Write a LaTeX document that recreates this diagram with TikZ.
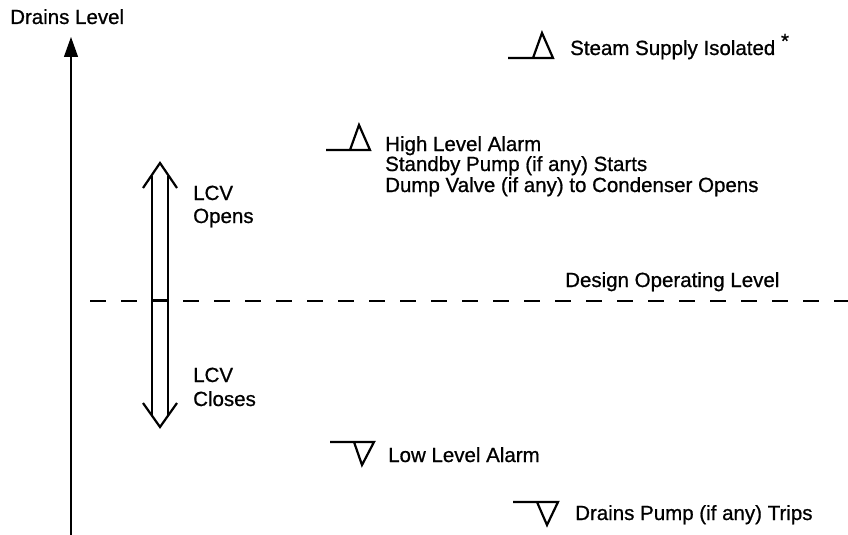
\documentclass[tikz,border=0pt]{standalone}
\usepackage{fontspec}
\setmainfont{Liberation Sans}
\newfontfamily\heavysans{Liberation Sans}[UprightFeatures={FakeBold=0.8}]
\usetikzlibrary{arrows.meta}
\begin{document}
\begin{tikzpicture}[x=1pt,y=-1pt,
  lbl/.style={anchor=base west,inner sep=0pt,font=\heavysans\fontsize{20.5}{22}\selectfont},
  sym/.style={line width=2.2pt,line join=miter},
  shaft/.style={line width=2.2pt},
  axisline/.style={line width=1.3pt,-{Triangle[length=20pt,width=14pt]}},
  levelline/.style={line width=1.8pt,dash pattern=on 16pt off 15pt}]
\useasboundingbox (0,0) rectangle (848,535);
% axis
\coordinate (axB) at (71,535);
\coordinate (axT) at (71,37);
\draw[axisline] (axB) -- (axT);
\node[lbl] (title) at (10,24) {Drains Level};
% design operating level
\coordinate (dL) at (90,301);
\coordinate (dR) at (848,301);
\draw[levelline] (dL) -- (dR);
\node[lbl] (design) at (565,287) {Design Operating Level};
% double arrow LCV
\coordinate (tT) at (160,163);
\coordinate (tL) at (143,188);
\coordinate (tR) at (177,188);
\coordinate (bT) at (160,427);
\coordinate (bL) at (143,403);
\coordinate (bR) at (177,403);
\coordinate (s1a) at (152,175.5);
\coordinate (s1b) at (152,415.5);
\coordinate (s2a) at (168,175.5);
\coordinate (s2b) at (168,415.5);
\coordinate (m1) at (152,300.5);
\coordinate (m2) at (168,300.5);
\draw[shaft,line join=miter] (tL) -- (tT) -- (tR);
\draw[shaft,line join=miter] (bL) -- (bT) -- (bR);
\draw[shaft] (s1a) -- (s1b);
\draw[shaft] (s2a) -- (s2b);
\draw[line width=3.5pt] (m1) -- (m2);
\node[lbl] (lcv1) at (193,200) {LCV};
\node[lbl] (opens) at (193,223) {Opens};
\node[lbl] (lcv2) at (193,382) {LCV};
\node[lbl] (closes) at (193,406) {Closes};
% steam supply isolated
\coordinate (sa) at (508,58);
\coordinate (sb) at (533,58);
\coordinate (sc) at (542,33);
\coordinate (sd) at (553,58);
\draw[sym] (sa) -- (sd) -- (sc) -- (sb);
\node[lbl] (steam) at (570,55) {Steam Supply Isolated \raisebox{7pt}{*}};
% high level alarm
\coordinate (ha) at (326,150);
\coordinate (hb) at (350,150);
\coordinate (hc) at (359,125);
\coordinate (hd) at (370,150);
\draw[sym] (ha) -- (hd) -- (hc) -- (hb);
\node[lbl] (high) at (385,151) {High Level Alarm};
\node[lbl] (standby) at (385,171) {Standby Pump (if any) Starts};
\node[lbl] (dump) at (385,192) {Dump Valve (if any) to Condenser Opens};
% low level alarm
\coordinate (la) at (330,442);
\coordinate (lb) at (354,442);
\coordinate (lc) at (362,465);
\coordinate (ld) at (374,442);
\draw[sym] (la) -- (ld) -- (lc) -- (lb);
\node[lbl] (low) at (388,462) {Low Level Alarm};
% drains pump trips
\coordinate (pa) at (513,502);
\coordinate (pb) at (537,502);
\coordinate (pc) at (547,525);
\coordinate (pd) at (558,502);
\draw[sym] (pa) -- (pd) -- (pc) -- (pb);
\node[lbl] (trips) at (575,520) {Drains Pump (if any) Trips};
\end{tikzpicture}
\end{document}
